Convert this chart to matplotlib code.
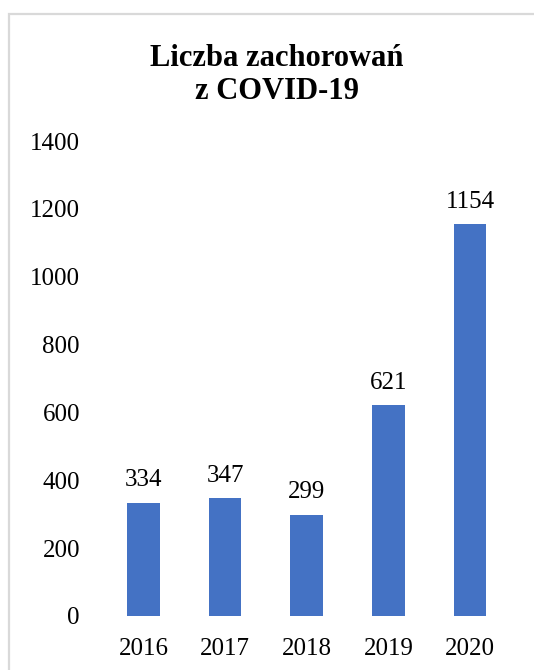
import matplotlib.pyplot as plt
from matplotlib.patches import Rectangle

# Liczba zachorowań w kolejnych latach
lata = ['2016', '2017', '2018', '2019', '2020']
zachorowania = [334, 347, 299, 621, 1154]
yticks = [0, 200, 400, 600, 800, 1000, 1200, 1400]

plt.rcParams['font.family'] = ['Liberation Serif', 'DejaVu Serif']

W, H = 534, 670
fig = plt.figure(figsize=(W / 100, H / 100), dpi=100)

# ramka wykresu (jasnoszara, jak w Excelu)
fig.patches.append(Rectangle((9 / W, -0.1), 1.2, 1 - 14 / H + 0.1,
                             transform=fig.transFigure, fill=False,
                             edgecolor='#d9d9d9', linewidth=1.6))

ax = fig.add_axes([102.75 / W, 1 - 616 / H, 408 / W, (616 - 141) / H])
x = range(len(lata))
ax.bar(x, zachorowania, width=0.4, color='#4472C4')

for xi, v in zip(x, zachorowania):
    ax.annotate(str(v), (xi, v), xytext=(0, 8.4), textcoords='offset points',
                ha='center', va='bottom', fontsize=18)

ax.set_xlim(-0.5, len(lata) - 0.5)
ax.set_ylim(0, 1400)
ax.set_xticks(list(x))
ax.set_xticklabels(lata)
ax.set_yticks(yticks)
ax.tick_params(axis='both', length=0, labelsize=18)
ax.tick_params(axis='x', pad=15.5)
ax.tick_params(axis='y', pad=16.4)
for s in ax.spines.values():
    s.set_visible(False)

fig.text(277 / W, 1 - 75 / H, 'Liczba zachorowań\nz COVID-19', ha='center',
         va='center', fontsize=22, fontweight='bold', linespacing=1.22)

fig.savefig('out.png', dpi=100)
